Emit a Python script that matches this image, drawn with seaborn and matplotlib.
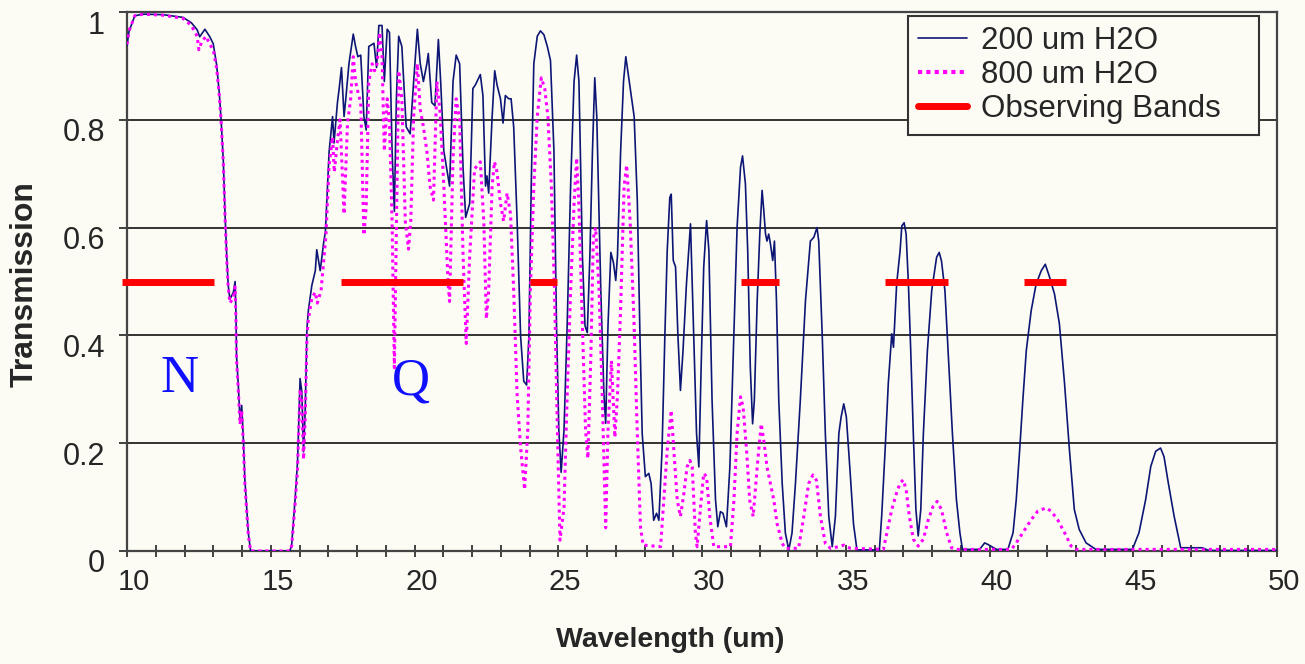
import numpy as np
import pandas as pd
import matplotlib
matplotlib.use("Agg")
import matplotlib.pyplot as plt
import matplotlib.transforms as mtransforms
from matplotlib.lines import Line2D
import seaborn as sns

# ---------------- data ----------------
wl_200 = [10.00, 10.07, 10.27, 10.56, 11.26, 11.95, 12.24, 12.44, 12.53, 12.71, 12.88, 13.00,
          13.12, 13.21, 13.27, 13.35, 13.41, 13.47, 13.52, 13.58, 13.70, 13.76, 13.79, 13.81,
          13.87, 13.93, 13.99, 14.05, 14.10, 14.22, 14.30, 15.67, 15.73, 15.85, 15.93, 15.97,
          16.02, 16.08, 16.14, 16.20, 16.26, 16.31, 16.43, 16.55, 16.60, 16.72, 16.84, 16.90,
          17.03, 17.15, 17.20, 17.32, 17.38, 17.46, 17.55, 17.61, 17.72, 17.87, 17.95, 18.03,
          18.13, 18.24, 18.32, 18.41, 18.59, 18.68, 18.76, 18.87, 18.95, 19.05, 19.13, 19.22,
          19.30, 19.37, 19.45, 19.56, 19.71, 19.85, 19.97, 20.10, 20.20, 20.31, 20.43, 20.48,
          20.60, 20.71, 20.83, 20.91, 21.02, 21.22, 21.34, 21.45, 21.57, 21.69, 21.78, 21.92,
          22.03, 22.12, 22.29, 22.38, 22.47, 22.52, 22.58, 22.70, 22.79, 22.87, 22.99, 23.08,
          23.16, 23.28, 23.36, 23.45, 23.57, 23.69, 23.80, 23.90, 23.98, 24.06, 24.15, 24.27,
          24.38, 24.50, 24.62, 24.73, 24.85, 24.94, 25.02, 25.10, 25.20, 25.31, 25.43, 25.55,
          25.64, 25.72, 25.84, 25.93, 26.01, 26.10, 26.19, 26.27, 26.34, 26.48, 26.59, 26.65,
          26.73, 26.83, 26.92, 27.00, 27.06, 27.17, 27.27, 27.35, 27.47, 27.64, 27.75, 27.84,
          27.92, 28.03, 28.15, 28.23, 28.32, 28.42, 28.50, 28.61, 28.71, 28.79, 28.88, 28.93,
          29.00, 29.08, 29.16, 29.25, 29.34, 29.46, 29.60, 29.71, 29.81, 29.89, 29.97, 30.06,
          30.16, 30.24, 30.35, 30.47, 30.55, 30.64, 30.73, 30.85, 30.97, 31.11, 31.22, 31.34,
          31.41, 31.51, 31.59, 31.68, 31.76, 31.82, 31.92, 32.01, 32.09, 32.15, 32.21, 32.26,
          32.32, 32.38, 32.46, 32.52, 32.59, 32.67, 32.79, 32.90, 33.02, 33.13, 33.25, 33.42,
          33.60, 33.77, 33.89, 34.00, 34.06, 34.18, 34.29, 34.41, 34.53, 34.64, 34.76, 34.84,
          34.93, 35.02, 35.14, 35.27, 35.39, 36.17, 36.25, 36.37, 36.48, 36.60, 36.66, 36.77,
          36.89, 36.95, 37.03, 37.10, 37.18, 37.26, 37.35, 37.44, 37.52, 37.61, 37.70, 37.84,
          37.99, 38.16, 38.25, 38.33, 38.45, 38.56, 38.71, 38.85, 38.97, 39.06, 39.66, 39.83,
          39.95, 40.24, 40.64, 40.82, 40.93, 41.05, 41.16, 41.28, 41.45, 41.62, 41.80, 41.94,
          42.09, 42.26, 42.43, 42.61, 42.78, 42.95, 43.12, 43.36, 43.70, 44.97, 45.20, 45.43,
          45.61, 45.78, 45.95, 46.07, 46.22, 46.42, 46.65, 46.94, 47.40, 47.63, 50.00]
tr_200 = [0.938, 0.964, 0.993, 0.996, 0.995, 0.990, 0.980, 0.967, 0.954, 0.968, 0.954, 0.941,
          0.901, 0.849, 0.803, 0.724, 0.625, 0.546, 0.493, 0.467, 0.480, 0.500, 0.440, 0.362,
          0.309, 0.243, 0.270, 0.204, 0.132, 0.033, 0.000, 0.000, 0.013, 0.099, 0.164, 0.230,
          0.320, 0.296, 0.184, 0.263, 0.414, 0.447, 0.493, 0.520, 0.559, 0.520, 0.572, 0.592,
          0.741, 0.806, 0.757, 0.832, 0.858, 0.897, 0.806, 0.839, 0.904, 0.959, 0.936, 0.917,
          0.920, 0.806, 0.781, 0.936, 0.942, 0.897, 0.975, 0.975, 0.871, 0.968, 0.962, 0.742,
          0.630, 0.839, 0.955, 0.936, 0.787, 0.774, 0.871, 0.968, 0.904, 0.871, 0.904, 0.923,
          0.832, 0.826, 0.949, 0.871, 0.742, 0.677, 0.871, 0.920, 0.904, 0.710, 0.619, 0.645,
          0.858, 0.865, 0.884, 0.845, 0.677, 0.696, 0.664, 0.806, 0.891, 0.865, 0.839, 0.794,
          0.845, 0.839, 0.839, 0.787, 0.612, 0.399, 0.315, 0.308, 0.399, 0.677, 0.904, 0.955,
          0.965, 0.958, 0.936, 0.910, 0.742, 0.418, 0.224, 0.146, 0.224, 0.418, 0.677, 0.871,
          0.920, 0.871, 0.548, 0.418, 0.405, 0.548, 0.742, 0.878, 0.806, 0.483, 0.289, 0.237,
          0.418, 0.554, 0.535, 0.502, 0.548, 0.742, 0.871, 0.917, 0.871, 0.806, 0.650, 0.403,
          0.218, 0.138, 0.144, 0.125, 0.057, 0.070, 0.057, 0.187, 0.403, 0.557, 0.656, 0.662,
          0.539, 0.527, 0.403, 0.298, 0.372, 0.496, 0.607, 0.403, 0.218, 0.156, 0.341, 0.527,
          0.613, 0.557, 0.280, 0.095, 0.045, 0.073, 0.070, 0.045, 0.156, 0.403, 0.600, 0.712,
          0.733, 0.681, 0.557, 0.341, 0.236, 0.279, 0.465, 0.588, 0.669, 0.631, 0.588, 0.575,
          0.588, 0.570, 0.539, 0.575, 0.465, 0.280, 0.125, 0.033, 0.002, 0.033, 0.125, 0.280,
          0.465, 0.575, 0.582, 0.600, 0.575, 0.403, 0.218, 0.064, 0.008, 0.064, 0.218, 0.249,
          0.273, 0.249, 0.156, 0.050, 0.002, 0.002, 0.065, 0.188, 0.311, 0.403, 0.378, 0.495,
          0.557, 0.603, 0.609, 0.588, 0.495, 0.372, 0.218, 0.077, 0.028, 0.077, 0.218, 0.372,
          0.483, 0.545, 0.554, 0.538, 0.483, 0.372, 0.218, 0.095, 0.034, 0.003, 0.003, 0.015,
          0.012, 0.003, 0.003, 0.034, 0.095, 0.188, 0.280, 0.372, 0.446, 0.495, 0.520, 0.532,
          0.508, 0.477, 0.422, 0.311, 0.188, 0.077, 0.040, 0.015, 0.003, 0.003, 0.034, 0.095,
          0.157, 0.185, 0.191, 0.175, 0.126, 0.065, 0.006, 0.006, 0.006, 0.001, 0.001]

wl_800 = [10.00, 10.07, 10.27, 10.56, 11.26, 11.95, 12.24, 12.44, 12.50, 12.60, 12.75, 12.88,
          13.00, 13.12, 13.21, 13.27, 13.35, 13.41, 13.47, 13.52, 13.58, 13.70, 13.76, 13.79,
          13.81, 13.87, 13.93, 13.99, 14.05, 14.10, 14.22, 14.30, 15.67, 15.73, 15.85, 15.93,
          15.97, 16.02, 16.08, 16.14, 16.20, 16.26, 16.31, 16.43, 16.55, 16.62, 16.75, 16.92,
          17.03, 17.15, 17.21, 17.32, 17.41, 17.55, 17.67, 17.78, 17.87, 17.95, 18.03, 18.13,
          18.24, 18.32, 18.41, 18.53, 18.61, 18.70, 18.79, 18.87, 18.95, 19.05, 19.13, 19.22,
          19.30, 19.37, 19.45, 19.56, 19.68, 19.79, 19.87, 19.97, 20.10, 20.20, 20.31, 20.43,
          20.54, 20.66, 20.78, 20.89, 21.02, 21.17, 21.22, 21.34, 21.45, 21.57, 21.69, 21.80,
          21.92, 22.09, 22.29, 22.41, 22.50, 22.58, 22.70, 22.78, 22.87, 22.99, 23.10, 23.22,
          23.34, 23.45, 23.57, 23.69, 23.83, 23.94, 24.03, 24.15, 24.27, 24.41, 24.53, 24.64,
          24.76, 24.87, 24.97, 25.06, 25.20, 25.31, 25.43, 25.55, 25.64, 25.72, 25.84, 25.95,
          26.03, 26.13, 26.22, 26.30, 26.42, 26.53, 26.65, 26.73, 26.85, 26.97, 27.06, 27.17,
          27.29, 27.38, 27.50, 27.63, 27.75, 27.86, 27.95, 28.56, 28.67, 28.79, 28.93, 29.02,
          29.14, 29.25, 29.37, 29.48, 29.58, 29.66, 29.77, 29.83, 29.95, 30.06, 30.16, 30.27,
          30.41, 30.99, 31.11, 31.22, 31.34, 31.43, 31.55, 31.66, 31.78, 31.92, 32.06, 32.15,
          32.26, 32.38, 32.50, 32.61, 32.79, 32.90, 33.36, 33.54, 33.71, 33.86, 33.98, 34.12,
          34.29, 34.47, 34.76, 34.93, 35.16, 36.31, 36.43, 36.60, 36.77, 36.89, 37.00, 37.10,
          37.21, 37.35, 37.52, 37.70, 37.87, 38.04, 38.18, 38.33, 38.51, 38.68, 38.79, 40.76,
          40.93, 41.16, 41.45, 41.68, 41.97, 42.14, 42.37, 42.61, 42.84, 43.01, 50.00]
tr_800 = [0.940, 0.965, 0.993, 0.996, 0.994, 0.988, 0.975, 0.955, 0.930, 0.945, 0.955, 0.940,
          0.930, 0.895, 0.845, 0.800, 0.720, 0.620, 0.540, 0.490, 0.460, 0.470, 0.490, 0.430,
          0.355, 0.300, 0.235, 0.260, 0.195, 0.125, 0.030, 0.000, 0.000, 0.010, 0.090, 0.150,
          0.220, 0.300, 0.280, 0.170, 0.250, 0.400, 0.430, 0.470, 0.480, 0.460, 0.483, 0.586,
          0.716, 0.768, 0.703, 0.761, 0.800, 0.625, 0.794, 0.839, 0.917, 0.871, 0.852, 0.832,
          0.586, 0.638, 0.871, 0.904, 0.891, 0.904, 0.962, 0.917, 0.742, 0.839, 0.794, 0.612,
          0.340, 0.599, 0.891, 0.839, 0.612, 0.560, 0.612, 0.806, 0.904, 0.819, 0.787, 0.742,
          0.677, 0.651, 0.871, 0.813, 0.677, 0.496, 0.463, 0.729, 0.839, 0.800, 0.548, 0.385,
          0.548, 0.709, 0.722, 0.612, 0.431, 0.483, 0.677, 0.722, 0.703, 0.645, 0.612, 0.664,
          0.625, 0.483, 0.289, 0.192, 0.114, 0.224, 0.483, 0.677, 0.806, 0.878, 0.858, 0.806,
          0.677, 0.483, 0.224, 0.020, 0.080, 0.289, 0.483, 0.645, 0.729, 0.638, 0.418, 0.224,
          0.172, 0.353, 0.580, 0.600, 0.483, 0.289, 0.043, 0.224, 0.353, 0.211, 0.289, 0.451,
          0.677, 0.716, 0.612, 0.434, 0.218, 0.045, 0.011, 0.008, 0.094, 0.187, 0.261, 0.187,
          0.094, 0.064, 0.107, 0.156, 0.168, 0.156, 0.033, 0.008, 0.082, 0.144, 0.138, 0.064,
          0.008, 0.008, 0.094, 0.218, 0.286, 0.267, 0.187, 0.094, 0.064, 0.156, 0.236, 0.205,
          0.156, 0.125, 0.094, 0.051, 0.014, 0.005, 0.005, 0.064, 0.125, 0.141, 0.131, 0.064,
          0.014, 0.005, 0.008, 0.011, 0.005, 0.003, 0.034, 0.077, 0.108, 0.126, 0.132, 0.114,
          0.065, 0.022, 0.009, 0.022, 0.058, 0.083, 0.092, 0.077, 0.034, 0.006, 0.003, 0.003,
          0.015, 0.034, 0.058, 0.074, 0.080, 0.074, 0.058, 0.034, 0.009, 0.003, 0.003]

band_start = [9.84, 17.46, 24.03, 31.34, 36.37, 41.20]
band_end = [13.03, 21.69, 24.94, 32.67, 38.56, 42.67]
band_level = 0.5

x_ticks = [10, 15, 20, 25, 30, 35, 40, 45, 50]
y_ticks = [0, 0.2, 0.4, 0.6, 0.8, 1.0]
y_tick_labels = ["0", "0.2", "0.4", "0.6", "0.8", "1"]

# ---------------- style ----------------
sns.set_theme(style="white")
plt.rcParams["font.family"] = ["Liberation Sans", "DejaVu Sans"]

BG = "#fcfcf5"
NAVY = "#0d1675"
MAGENTA = "#ff00ff"
RED = "#ff0000"

fig = plt.figure(figsize=(13.05, 6.64), dpi=100, facecolor=BG)
ax = fig.add_axes([127 / 1305, 113 / 664, 1150 / 1305, 539 / 664])
ax.set_facecolor(BG)

df200 = pd.DataFrame({"wl": wl_200, "tr": tr_200})
df800 = pd.DataFrame({"wl": wl_800, "tr": tr_800})

sns.lineplot(data=df200, x="wl", y="tr", ax=ax, color=NAVY, lw=1.2,
             estimator=None, sort=False, zorder=3)
sns.lineplot(data=df800, x="wl", y="tr", ax=ax, color=MAGENTA, lw=2.2,
             linestyle=(0, (1.0, 1.3)), estimator=None, sort=False, zorder=4)
ax.hlines([band_level] * len(band_start), band_start, band_end, colors=RED,
          lw=5, zorder=5, clip_on=False)

ax.set_xlim(10, 50)
ax.set_ylim(0, 1)
ax.set_xticks(x_ticks)
ax.set_xticks(np.arange(10, 51, 1), minor=True)
ax.set_yticks(y_ticks)
ax.set_yticklabels(y_tick_labels)
ax.tick_params(axis="x", which="both", direction="inout", length=9, width=1.2,
               color="#222222", labelsize=21, pad=8, bottom=True)
ax.tick_params(axis="y", which="major", direction="out", length=6, width=1.2,
               color="#222222", labelsize=22, pad=10, left=True)

# small label offsets as in the original rendering
dx = mtransforms.ScaledTranslation(7 / 100, 0, fig.dpi_scale_trans)
dy = mtransforms.ScaledTranslation(0, -10 / 100, fig.dpi_scale_trans)
for lab in ax.get_xticklabels():
    lab.set_transform(lab.get_transform() + dx)
for lab in ax.get_yticklabels():
    lab.set_transform(lab.get_transform() + dy)

for y in y_ticks[1:-1]:
    ax.axhline(y, color="#111111", lw=1.2, zorder=1)
for s in ax.spines.values():
    s.set_visible(True)
    s.set_color("#444444")
    s.set_linewidth(1.6)

ax.set_xlabel("Wavelength (um)", fontsize=20.5, fontweight="bold")
ax.set_ylabel("Transmission", fontsize=23, fontweight="bold")
ax.xaxis.label.set_verticalalignment("center")
ax.yaxis.label.set_verticalalignment("center")
ax.xaxis.set_label_coords(0.472, -0.166)
ax.yaxis.set_label_coords(-0.0887, 0.496)

ax.text(11.84, 0.32, "N", fontsize=38, color="#1010ff", ha="center", va="center",
        family=["Liberation Serif", "DejaVu Serif"])
ax.text(19.86, 0.315, "Q", fontsize=38, color="#1010ff", ha="center", va="center",
        family=["Liberation Serif", "DejaVu Serif"])

handles = [
    Line2D([], [], color=NAVY, lw=1.2),
    Line2D([], [], color=MAGENTA, lw=3, linestyle=(0, (1.0, 1.0))),
    Line2D([], [], color=RED, lw=5),
]
labels = ["200 um H2O", "800 um H2O", "Observing Bands"]
leg = ax.legend(handles, labels, loc="upper left",
                bbox_to_anchor=(0.6791, 0.0, 0.3052, 0.9926), mode="expand",
                borderaxespad=0, fontsize=22.5, frameon=True, fancybox=False,
                handlelength=1.57, handletextpad=0.45, labelspacing=0.13,
                borderpad=0.33, facecolor=BG, framealpha=1)
leg.get_frame().set_edgecolor("#333333")
leg.get_frame().set_linewidth(1.5)
leg.set_zorder(10)

fig.savefig("out.png", dpi=100, facecolor=BG)
